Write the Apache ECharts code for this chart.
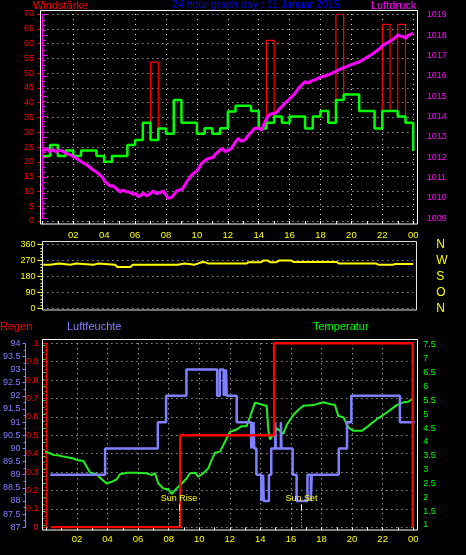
<!DOCTYPE html>
<html><head><meta charset="utf-8">
<script src="https://cdn.jsdelivr.net/npm/echarts@6/dist/echarts.min.js"></script>
<style>html,body{margin:0;padding:0;background:#000;overflow:hidden}#c{width:466px;height:555px}</style>
</head><body><div id="c"></div>
<script>
// ---------- data ----------
const hourTicks = ['02','04','06','08','10','12','14','16','18','20','22','00'];
const dirNames = ['N','O','S','W','N'];

// wind (half-hour slots, hours)
const windT = [0.05,0.5,1,1.5,2,2.5,3,3.5,4,4.5,5,5.5,6,6.5,7,7.5,8,8.5,9,9.5,10,10.5,11,11.5,12,12.5,13,13.5,14,14.5,15,15.5,16,16.5,17,17.5,18,18.5,19,19.5,20,20.5,21,21.5,22,22.5,23,23.5,24];
const windAvg = [22.0,25.7,22.0,23.8,22.0,23.8,23.8,22.0,20.0,22.0,22.0,25.7,27.4,33.2,27.4,31.3,29.5,40.9,33.2,33.2,29.5,31.4,29.5,31.4,37.0,39.0,39.0,37.2,31.3,33.2,35.3,33.2,35.3,35.3,31.3,35.3,37.2,33.2,40.9,42.8,42.8,37.2,37.2,31.3,37.2,37.2,35.3,33.2,23.7];
const windGust = [22.0,25.7,22.0,23.8,22.0,23.8,23.8,22.0,20.0,22.0,22.0,25.7,27.4,33.2,53.7,31.3,29.5,40.9,33.2,33.2,29.5,31.4,29.5,31.4,37.0,39.0,39.0,37.2,31.3,61.1,35.3,33.2,35.3,35.3,31.3,35.3,37.2,33.2,70.0,42.8,42.8,37.2,37.2,31.3,66.5,37.2,66.5,33.2,23.7];

// pressure
const presT = [0.06,0.3,0.49,0.7,0.9,1.1,1.3,1.55,1.8,2.0,2.2,2.43,2.65,2.87,3.05,3.29,3.5,3.73,3.9,4.05,4.2,4.38,4.55,4.7,4.85,5.02,5.2,5.46,5.65,5.88,6.05,6.21,6.35,6.53,6.75,6.95,7.18,7.4,7.61,7.83,8.0,8.15,8.37,8.55,8.69,9.02,9.2,9.34,9.5,9.66,9.99,10.15,10.31,10.63,10.85,11.06,11.2,11.39,11.55,11.71,11.82,12.05,12.25,12.45,12.68,12.85,13.11,13.3,13.55,13.75,13.97,14.19,14.41,14.55,14.73,14.95,15.17,15.3,15.49,15.7,15.92,16.15,16.35,16.5,16.67,16.85,17.0,17.2,17.43,17.65,17.86,18.05,18.29,18.5,18.72,19.0,19.26,19.5,19.7,19.9,20.12,20.4,20.67,20.96,21.2,21.4,21.6,21.83,22.05,22.26,22.5,22.69,22.85,23.02,23.2,23.34,23.55,23.65,23.77,23.9,24.0];
const presV = [1012.32,1012.4,1012.27,1012.38,1012.25,1012.35,1012.3,1012.19,1012.12,1012.03,1011.95,1011.83,1011.72,1011.62,1011.52,1011.37,1011.27,1011.13,1011.0,1010.8,1010.7,1010.59,1010.6,1010.52,1010.4,1010.3,1010.38,1010.3,1010.28,1010.18,1010.22,1010.06,1010.12,1010.23,1010.1,1010.2,1010.34,1010.2,1010.26,1010.34,1010.15,1009.98,1010.03,1010.2,1010.34,1010.42,1010.6,1010.8,1010.95,1011.13,1011.32,1011.5,1011.7,1011.9,1011.95,1012.0,1012.15,1012.27,1012.4,1012.39,1012.27,1012.35,1012.44,1012.7,1012.93,1012.78,1012.85,1013.05,1013.25,1013.42,1013.42,1013.34,1013.74,1013.95,1014.11,1014.15,1014.19,1014.35,1014.48,1014.65,1014.81,1014.98,1015.14,1015.3,1015.46,1015.6,1015.71,1015.65,1015.75,1015.8,1015.88,1015.95,1015.99,1016.05,1016.12,1016.22,1016.32,1016.4,1016.45,1016.52,1016.58,1016.65,1016.75,1016.89,1017.0,1017.1,1017.2,1017.35,1017.5,1017.6,1017.7,1017.79,1017.9,1018.0,1017.95,1017.92,1017.84,1017.98,1018.04,1018.05,1018.09];

// wind direction
const dirT = [0.06,0.5,0.6,1.1,1.2,1.8,1.9,2.2,2.3,3.3,3.4,3.6,3.7,4.7,4.85,5.7,5.85,8.75,8.85,9.2,9.3,9.85,10.05,10.35,10.55,10.75,13.2,13.35,14.15,14.3,14.6,14.75,15.15,15.3,16.1,16.25,19.05,19.2,21.6,21.75,22.7,22.85,24];
const dirV = [247,247,253,253,246,246,253,253,247,247,253,253,247,247,234,234,247,247,253,253,247,247,253,262,260,253,253,261,261,270,270,261,261,270,270,262,262,253,253,247,247,251,251];

// rain (cumulative)
const rainT = [0.28,8.76,14.9,23.97];
const rainV = [0,0.5,1.0,0];

// humidity
const humT = [0.25,3.84,7.29,7.83,9.16,11.17,11.35,11.6,11.65,11.7,11.75,11.8,12.45,13.4,13.45,13.5,13.55,13.6,13.74,14.06,14.1,14.14,14.18,14.22,14.56,14.71,14.97,15.01,15.34,15.38,16.11,16.37,17.08,17.3,17.36,19.13,19.67,19.95,23.13,24.1];
const humV = [89,90,91,92,93,92,93,92,93,92,93,92,91,90,91,90,91,90,89,88,89,88,89,88,89,90,91,90,91,90,89,88,89,88,89,90,91,92,91,91];

// temperature
const tempT = [0.17,0.45,0.71,1.0,1.35,1.68,2.0,2.22,2.65,2.87,3.08,3.51,3.84,4.16,4.49,4.81,5.02,5.46,6.1,6.75,7.07,7.29,7.5,7.83,8.15,8.37,8.58,8.8,9.02,9.34,9.55,9.88,10.09,10.41,10.74,10.96,11.17,11.5,11.71,11.93,12.14,12.58,12.9,13.22,13.44,13.76,13.97,14.52,14.62,14.73,14.94,15.17,15.38,15.59,15.81,16.24,16.56,16.89,17.53,18.18,18.61,18.94,19.15,19.48,19.8,20.12,20.67,21.09,21.64,22.06,22.5,22.93,23.36,23.68,24.0];
const tempV = [3.65,3.6,3.53,3.52,3.47,3.44,3.4,3.35,3.31,3.1,2.9,2.83,2.65,2.5,2.56,2.65,2.83,2.89,2.89,2.87,2.8,2.87,2.5,2.32,2.29,2.12,2.26,2.38,2.5,2.69,2.87,2.89,2.74,2.87,3.05,3.35,3.61,3.65,3.89,4.13,4.37,4.45,4.57,4.57,4.91,5.42,5.39,5.3,4.43,4.09,4.25,4.49,4.4,4.29,4.61,4.97,5.15,5.31,5.33,5.43,5.37,5.33,4.94,4.89,4.53,4.4,4.4,4.57,4.82,4.97,5.15,5.33,5.43,5.45,5.57];

// sun events
const sunT = [8.67, 16.69];
const sunLabels = ['Sun Rise', 'Sun Set'];

// ---------- chart ----------
const FONT = '"Liberation Sans", Arial, sans-serif';
const RED = '#ff0000', MAG = '#ff00ff', YEL = '#ffff00', GRN = '#00ff00', HUM = '#8080ff', WHITE = '#ffffff';
const dots = {color:'#dcdcdc', width:1, type:[1,4]};
const zip = (a,b) => a.map((t,i)=>[t,b[i]]);
const hourFmt = v => v === 0 ? '' : hourTicks[v/2 - 1];
const plain = v => String(+v.toFixed(1));
const L = 42.4, W = 370.8;

const hidX = (g) => ({type:'value', gridIndex:g, min:0, max:24, interval:2, show:false});

const option = {
  backgroundColor:'#000',
  animation:false,
  grid:[
    {left:L, width:W, top:14, height:207},
    {left:L, width:W, top:14.7, height:203.6},
    {left:L, width:W, top:244.7, height:63.6},
    {left:L, width:W, top:343.3, height:184},
    {left:L, width:W, top:345, height:180}
  ],
  xAxis:[
    {type:'value', gridIndex:0, min:0, max:24, interval:2, position:'bottom', offset:3,
     axisLine:{show:false}, axisTick:{show:true, length:3, lineStyle:{color:WHITE}},
     minorTick:{show:true, splitNumber:2, length:3, lineStyle:{color:WHITE}},
     axisLabel:{show:false}, splitLine:{show:true, showMinLine:false, lineStyle:dots}},
    hidX(1),
    {type:'value', gridIndex:2, min:0, max:24, interval:2, position:'top',
     axisLine:{show:false}, axisTick:{show:false},
     axisLabel:{show:true, color:YEL, fontSize:9.5, fontFamily:FONT, margin:4, formatter:hourFmt},
     splitLine:{show:false}},
    {type:'value', gridIndex:3, min:0, max:24, interval:2, position:'bottom', offset:2.7,
     axisLine:{show:false}, axisTick:{show:true, length:3, lineStyle:{color:WHITE}},
     minorTick:{show:true, splitNumber:2, length:3, lineStyle:{color:WHITE}},
     axisLabel:{show:true, color:YEL, fontSize:9.5, fontFamily:FONT, margin:4.5, formatter:hourFmt},
     splitLine:{show:true, showMinLine:false, lineStyle:dots}},
    hidX(4)
  ],
  yAxis:[
    {type:'value', gridIndex:0, position:'left', offset:2.4, min:0, max:70, interval:5,
     axisLine:{show:false}, axisTick:{show:true, length:5, lineStyle:{color:RED}},
     minorTick:{show:true, splitNumber:2, length:3, lineStyle:{color:RED}},
     axisLabel:{color:RED, fontSize:9, fontFamily:FONT, margin:6, formatter:plain},
     splitLine:{show:true, lineStyle:dots}},
    {type:'value', gridIndex:1, position:'right', offset:5.5, min:1009, max:1019, interval:1,
     axisLine:{show:true, lineStyle:{color:MAG}}, axisTick:{show:true, length:5, lineStyle:{color:MAG}},
     minorTick:{show:true, splitNumber:4, length:3, lineStyle:{color:MAG}},
     axisLabel:{color:MAG, fontSize:9, fontFamily:FONT, margin:8, formatter:plain},
     splitLine:{show:false}},
    {type:'value', gridIndex:2, position:'left', offset:0, min:0, max:360, interval:90,
     axisLine:{show:true, lineStyle:{color:YEL}}, axisTick:{show:true, length:5, lineStyle:{color:YEL}},
     minorTick:{show:true, splitNumber:5, length:2, lineStyle:{color:YEL}},
     axisLabel:{color:YEL, fontSize:9, fontFamily:FONT, margin:7, formatter:plain},
     splitLine:{show:true, lineStyle:dots}},
    {type:'value', gridIndex:2, position:'right', offset:0, min:0, max:360, interval:90,
     axisLine:{show:false}, axisTick:{show:false},
     axisLabel:{color:YEL, fontSize:12, fontFamily:FONT, margin:23, formatter:v => dirNames[Math.round(v/90)]},
     splitLine:{show:false}},
    {type:'value', gridIndex:3, position:'left', offset:1.9, min:0, max:1, interval:0.1,
     axisLine:{show:true, lineStyle:{color:RED}}, axisTick:{show:true, length:4, lineStyle:{color:RED}},
     minorTick:{show:true, splitNumber:5, length:2, lineStyle:{color:RED}},
     axisLabel:{color:RED, fontSize:9, fontFamily:FONT, margin:6, formatter:plain},
     splitLine:{show:true, lineStyle:dots}},
    {type:'value', gridIndex:3, position:'left', offset:20.9, min:87, max:94, interval:0.5,
     axisLine:{show:true, lineStyle:{color:HUM}}, axisTick:{show:true, length:3, lineStyle:{color:HUM}},
     minorTick:{show:true, splitNumber:2, length:2, lineStyle:{color:HUM}},
     axisLabel:{color:HUM, fontSize:9, fontFamily:FONT, margin:5, formatter:plain},
     splitLine:{show:false}},
    {type:'value', gridIndex:4, position:'right', offset:6, min:1, max:7.5, interval:0.5,
     axisLine:{show:true, lineStyle:{color:GRN}}, axisTick:{show:true, length:3, lineStyle:{color:GRN}},
     minorTick:{show:true, splitNumber:2, length:2, lineStyle:{color:GRN}},
     axisLabel:{color:GRN, fontSize:9, fontFamily:FONT, margin:4, formatter:plain},
     splitLine:{show:false}}
  ],
  series:[
    {name:'Böen', type:'line', xAxisIndex:0, yAxisIndex:0, step:'end', symbol:'none', z:2,
     lineStyle:{color:RED, width:1.2}, data:zip(windT, windGust)},
    {name:'Windstärke', type:'line', xAxisIndex:0, yAxisIndex:0, step:'end', symbol:'none', z:3,
     lineStyle:{color:GRN, width:2.5}, data:zip(windT, windAvg)},
    {name:'Luftdruck', type:'line', xAxisIndex:1, yAxisIndex:1, symbol:'none', z:4,
     lineStyle:{color:MAG, width:3}, data:zip(presT, presV)},
    {name:'Windrichtung', type:'line', xAxisIndex:2, yAxisIndex:2, symbol:'none', z:3,
     lineStyle:{color:YEL, width:2}, data:zip(dirT, dirV)},
    {name:'Temperatur', type:'line', xAxisIndex:4, yAxisIndex:6, symbol:'none', z:2,
     lineStyle:{color:'#22ee22', width:2}, data:zip(tempT, tempV)},
    {name:'Luftfeuchte', type:'line', xAxisIndex:3, yAxisIndex:5, step:'end', symbol:'none', z:3,
     lineStyle:{color:HUM, width:2.5}, data:zip(humT, humV)},
    {name:'Regen', type:'line', xAxisIndex:3, yAxisIndex:4, step:'end', symbol:'none', z:4,
     lineStyle:{color:RED, width:2.5}, data:zip(rainT, rainV)},
    {name:'Sonne', type:'custom', xAxisIndex:3, yAxisIndex:4, z:5,
     data:sunT.map(t => [t, 0]),
     renderItem:(params, api) => {
       const p = api.coord([api.value(0), 0]);
       const x = Math.round(p[0]) + 0.5;
       return {type:'group', children:[
         {type:'text', style:{x:p[0], y:p[1]-29, text:sunLabels[params.dataIndex], fill:YEL,
           font:'9px '+FONT, align:'center', verticalAlign:'middle'}},
         {type:'line', shape:{x1:x, y1:p[1]-23, x2:x, y2:p[1]-17}, style:{stroke:WHITE, lineWidth:1}},
         {type:'line', shape:{x1:x, y1:p[1]-17, x2:x, y2:p[1]}, style:{stroke:YEL, lineWidth:1, lineDash:[1,2]}}
       ]};
     }}
  ],
  graphic:[
    {type:'rect', silent:true, z:10, shape:{x:40.5, y:10.5, width:377, height:213.5}, style:{fill:'transparent', stroke:WHITE, lineWidth:1}},
    {type:'rect', silent:true, z:10, shape:{x:42.5, y:241.5, width:374, height:68.5}, style:{fill:'transparent', stroke:'#e0e0e0', lineWidth:1}},
    {type:'rect', silent:true, z:10, shape:{x:42.5, y:339.5, width:375, height:190.5}, style:{fill:'transparent', stroke:WHITE, lineWidth:1}},
    {type:'text', silent:true, style:{x:33, y:5.5, text:'Windstärke', fill:RED, font:'11px '+FONT, verticalAlign:'middle'}},
    {type:'text', silent:true, style:{x:172, y:5.5, text:'24 hour graph day : 11 Januar 2015', fill:'#0000ff', font:'10.6px '+FONT, verticalAlign:'middle'}},
    {type:'text', silent:true, style:{x:371, y:5.5, text:'Luftdruck', fill:MAG, font:'11px '+FONT, verticalAlign:'middle'}},
    {type:'text', silent:true, style:{x:0, y:327, text:'Regen', fill:RED, font:'11px '+FONT, verticalAlign:'middle'}},
    {type:'text', silent:true, style:{x:67, y:327, text:'Luftfeuchte', fill:HUM, font:'11px '+FONT, verticalAlign:'middle'}},
    {type:'text', silent:true, style:{x:313, y:327, text:'Temperatur', fill:GRN, font:'11px '+FONT, verticalAlign:'middle'}}
  ]
};
const chart = echarts.init(document.getElementById('c'), null, {renderer:'canvas'});
chart.setOption(option);
</script>
</body></html>
